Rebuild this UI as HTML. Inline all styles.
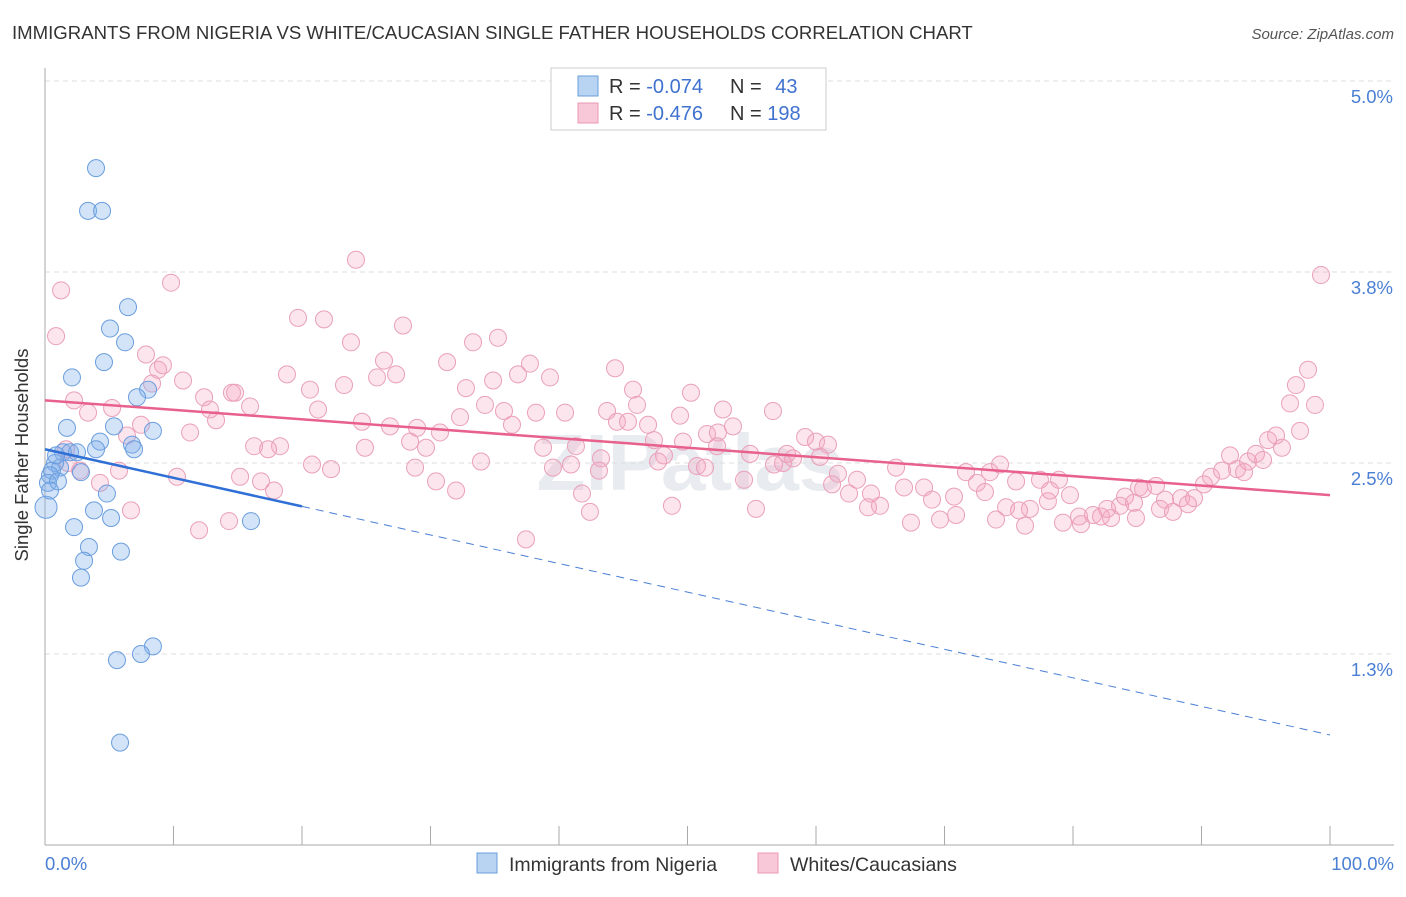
<!DOCTYPE html>
<html><head><meta charset="utf-8"><style>
body{margin:0;background:#fff;font-family:"Liberation Sans",sans-serif;}
svg text{font-family:"Liberation Sans",sans-serif;}
</style></head><body>
<svg id="chart" width="1406" height="892" viewBox="0 0 1406 892" xmlns="http://www.w3.org/2000/svg">
<text x="12" y="39" font-size="18.6" fill="#333">IMMIGRANTS FROM NIGERIA VS WHITE/CAUCASIAN SINGLE FATHER HOUSEHOLDS CORRELATION CHART</text>
<text x="1394" y="39" font-size="15" fill="#555" font-style="italic" text-anchor="end">Source: ZipAtlas.com</text>
<text x="690" y="490" font-size="80" fill="#e8ebf0" text-anchor="middle" font-weight="bold">ZIPatlas</text>
<g id="grid"></g>
<g id="axes"></g>
<g id="pink"></g>
<g id="blue"></g>
<g id="lines"></g>
<text x="28" y="455" font-size="18.5" fill="#333" text-anchor="middle" transform="rotate(-90 28 455)">Single Father Households</text>
<text x="45" y="870" font-size="18.5" fill="#4a7fd4">0.0%</text>
<text x="1394" y="870" font-size="18.5" fill="#4a7fd4" text-anchor="end">100.0%</text>
<g>
<rect x="551" y="68" width="275" height="62" fill="#fff" stroke="#ccc"/>
<rect x="578" y="76" width="20" height="20" fill="#b9d3f3" stroke="#6a9ede"/>
<rect x="578" y="103" width="20" height="20" fill="#f8c8d8" stroke="#e99ab4"/>
<text x="609" y="93" font-size="20" fill="#333">R = <tspan fill="#3f72cf">-0.074</tspan></text>
<text x="730" y="93" font-size="20" fill="#333">N = <tspan fill="#3f72cf" dx="8">43</tspan></text>
<text x="609" y="120" font-size="20" fill="#333">R = <tspan fill="#3f72cf">-0.476</tspan></text>
<text x="730" y="120" font-size="20" fill="#333">N = <tspan fill="#3f72cf">198</tspan></text>
</g>
<g>
<rect x="477" y="853" width="20" height="20" fill="#b9d3f3" stroke="#6a9ede"/>
<text x="509" y="871" font-size="19.5" fill="#333">Immigrants from Nigeria</text>
<rect x="758" y="853" width="20" height="20" fill="#f8c8d8" stroke="#e99ab4"/>
<text x="790" y="871" font-size="19.5" fill="#333">Whites/Caucasians</text>
</g>
</svg>
<script>
const yTicks=[5.0,3.75,2.5,1.25];
const yTickLabels=["5.0%","3.8%","2.5%","1.3%"];
const xTicks=[0,10,20,30,40,50,60,70,80,90,100];
const blueX=[3.97,3.35,4.44,6.46,5.06,6.23,4.59,2.10,8.02,7.16,8.40,1.71,5.37,4.28,3.97,6.77,6.93,1.40,1.17,0.78,0.54,0.39,0.23,1.01,0.08,2.80,4.82,3.81,5.14,2.26,3.42,5.91,3.04,2.80,16.03,8.40,7.47,5.60,5.84,1.95,2.49,0.86,0.39];
const blueY=[4.43,4.15,4.15,3.52,3.38,3.29,3.16,3.06,2.98,2.93,2.71,2.73,2.74,2.64,2.59,2.62,2.59,2.57,2.47,2.50,2.45,2.42,2.37,2.38,2.21,2.44,2.30,2.19,2.14,2.08,1.95,1.92,1.86,1.75,2.12,1.30,1.25,1.21,0.67,2.57,2.57,2.55,2.32];
const pinkX=[1.25,0.86,9.81,24.20,19.69,21.71,27.86,23.81,35.25,33.31,7.86,9.18,8.80,8.33,10.74,18.83,26.38,31.29,37.74,44.36,27.32,25.84,23.27,20.62,14.79,12.38,2.26,5.22,3.35,12.84,13.31,15.96,21.25,14.55,32.76,34.87,36.81,39.30,45.76,50.27,35.72,34.24,32.30,38.21,40.47,43.74,46.07,44.51,45.37,46.93,49.42,52.76,53.54,56.65,11.29,7.47,6.38,24.67,26.85,28.95,30.74,28.41,29.65,36.34,38.76,41.32,47.39,49.65,51.52,52.37,52.30,1.64,1.79,2.73,5.76,10.27,15.18,18.29,16.27,17.36,20.78,22.26,24.90,28.80,30.43,33.93,39.53,40.93,43.27,43.11,48.17,47.71,50.74,51.36,54.87,56.73,57.43,58.21,59.15,60.00,60.93,60.31,57.74,4.28,6.69,11.99,14.32,16.81,17.82,31.99,41.79,42.41,37.43,48.79,54.40,55.33,61.71,61.25,62.57,63.19,64.28,66.23,64.98,64.05,67.39,66.85,68.41,69.65,69.03,70.74,71.67,70.90,72.53,73.15,73.54,74.32,74.79,75.80,77.43,76.65,78.05,78.91,79.77,79.22,80.47,80.62,81.56,82.18,82.96,83.66,84.05,84.90,85.14,86.46,86.77,87.16,87.78,88.41,88.95,89.42,90.19,90.74,91.60,92.22,92.76,93.31,93.62,94.24,94.79,95.18,95.80,96.26,96.89,97.35,97.67,98.29,98.83,99.30,74.01,76.27,82.65,84.75,85.45,75.57,78.21];
const pinkY=[3.63,3.33,3.68,3.83,3.45,3.44,3.40,3.29,3.32,3.29,3.21,3.14,3.11,3.02,3.04,3.08,3.17,3.16,3.15,3.12,3.08,3.06,3.01,2.98,2.96,2.93,2.91,2.86,2.83,2.85,2.78,2.87,2.85,2.96,2.99,3.04,3.08,3.06,2.98,2.96,2.84,2.88,2.80,2.83,2.83,2.84,2.88,2.77,2.77,2.75,2.81,2.85,2.74,2.84,2.70,2.75,2.68,2.77,2.74,2.73,2.70,2.64,2.60,2.75,2.60,2.61,2.65,2.64,2.69,2.70,2.61,2.59,2.50,2.45,2.45,2.41,2.41,2.61,2.61,2.59,2.49,2.46,2.60,2.47,2.38,2.51,2.47,2.49,2.53,2.45,2.55,2.51,2.48,2.47,2.56,2.49,2.50,2.53,2.67,2.64,2.62,2.54,2.56,2.37,2.19,2.06,2.12,2.38,2.32,2.32,2.30,2.18,2.00,2.22,2.39,2.20,2.43,2.36,2.30,2.39,2.30,2.47,2.22,2.21,2.11,2.34,2.34,2.13,2.26,2.28,2.44,2.16,2.37,2.31,2.44,2.49,2.21,2.19,2.39,2.20,2.25,2.39,2.29,2.11,2.15,2.10,2.16,2.15,2.14,2.22,2.28,2.14,2.34,2.35,2.20,2.26,2.18,2.27,2.23,2.27,2.36,2.41,2.45,2.55,2.46,2.44,2.51,2.56,2.52,2.65,2.68,2.60,2.89,3.01,2.71,3.11,2.88,3.73,2.13,2.09,2.20,2.24,2.33,2.38,2.32];
const pinkTrend=[2.91,2.29];
const blueTrend=[2.59,0.72];
const blueSolidEnd=20;
const NS="http://www.w3.org/2000/svg";
function xs(v){return 45+v*12.85;}
function ys(v){return 81+(5-v)*152.8;}
function mk(tag,attrs,parent){const e=document.createElementNS(NS,tag);for(const k in attrs)e.setAttribute(k,attrs[k]);parent.appendChild(e);return e;}
const grid=document.getElementById('grid'),axes=document.getElementById('axes');
yTicks.forEach((t,i)=>{
 const l=mk('line',{x1:45,x2:1394,y1:ys(t),y2:ys(t),stroke:'#dcdcdc','stroke-dasharray':'5,4'},grid);
 
 
 const tx=mk('text',{x:1393,y:ys(t)+22,'font-size':18.5,fill:'#4a7fd4','text-anchor':'end'},grid);
 tx.textContent=yTickLabels[i];
 
 
});
const ya=mk('line',{x1:45,x2:45,y1:68,y2:845,stroke:'#aaa'},axes);


const xa=mk('line',{x1:45,x2:1394,y1:845,y2:845,stroke:'#aaa'},axes);


xTicks.forEach(t=>{
 const l=mk('line',{x1:xs(t),x2:xs(t),y1:826,y2:845,stroke:'#aaa'},axes);
 
 
});
const pg=document.getElementById('pink');
pinkX.forEach((x,i)=>{
 const c=mk('circle',{cx:xs(x),cy:ys(pinkY[i]),r:8.5,fill:'rgba(244,160,190,0.28)',stroke:'#eaa0b9','stroke-width':1},pg);
 
 
});
const bg=document.getElementById('blue');
blueX.forEach((x,i)=>{
 const c=mk('circle',{cx:xs(x),cy:ys(blueY[i]),r:(i===24?11:8.5),fill:'rgba(130,175,235,0.35)',stroke:'#6a9ede','stroke-width':1},bg);
 
 
});
const lg=document.getElementById('lines');
const pl=mk('line',{x1:xs(0),y1:ys(pinkTrend[0]),x2:xs(100),y2:ys(pinkTrend[1]),stroke:'#e8608c','stroke-width':2.5},lg);


const bAt=v=>blueTrend[0]+(blueTrend[1]-blueTrend[0])*v/100;
const bl=mk('line',{x1:xs(0),y1:ys(blueTrend[0]),x2:xs(blueSolidEnd),y2:ys(bAt(blueSolidEnd)),stroke:'#2f6fd6','stroke-width':2.5},lg);


const bd=mk('line',{x1:xs(blueSolidEnd),y1:ys(bAt(blueSolidEnd)),x2:xs(100),y2:ys(blueTrend[1]),stroke:'#4a7fd4','stroke-width':1,'stroke-dasharray':'8,6'},lg);


</script>
</body></html>
